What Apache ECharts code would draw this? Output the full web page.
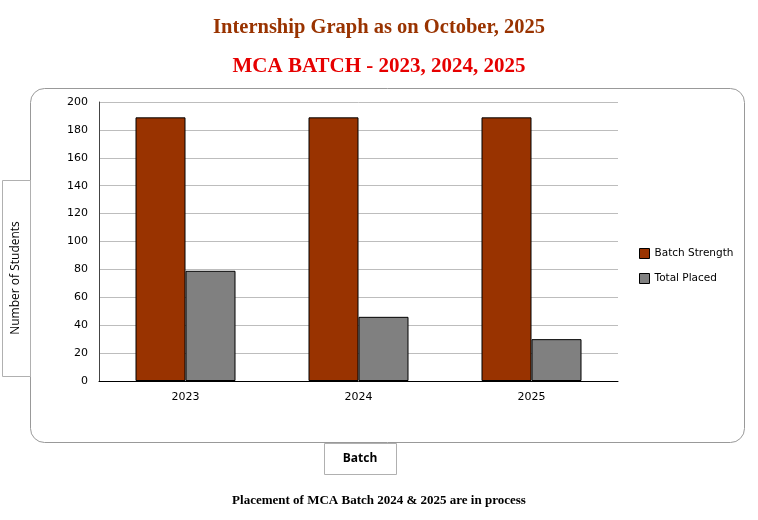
<!DOCTYPE html>
<html>
<head>
<meta charset="utf-8">
<script src="https://cdn.jsdelivr.net/npm/echarts@6/dist/echarts.min.js"></script>
<style>
  html, body { margin: 0; padding: 0; background: #fff; }
  #chart { width: 758px; height: 520px; }
</style>
</head>
<body>
<div id="chart"></div>
<script>
/* Internship graph — MCA batches */

// --- Data ---
const batches = ['2023', '2024', '2025'];
const batchStrength = [189, 189, 189];
const totalPlaced = [79, 46, 30];
const yTicks = { min: 0, max: 200, interval: 20 };

// --- Render ---
const chart = echarts.init(document.getElementById('chart'));

chart.setOption({
    animation: false,
    backgroundColor: '#fff',
    title: [
        {
            text: 'Internship Graph as on October, 2025',
            left: 'center', top: 12,
            textStyle: { fontFamily: 'Liberation Serif', fontSize: 20.5, fontWeight: 'bold', color: '#993300' }
        },
        {
            text: 'MCA BATCH - 2023, 2024, 2025',
            left: 'center', top: 51,
            textStyle: { fontFamily: 'Liberation Serif', fontSize: 21, fontWeight: 'bold', color: '#e60000' }
        },
        {
            text: 'Placement of MCA Batch 2024 & 2025 are in process',
            left: 'center', top: 489,
            textStyle: { fontFamily: 'Liberation Serif', fontSize: 13, fontWeight: 'bold', color: '#000' }
        }
    ],
    graphic: [
        {
            type: 'rect', z: -10,
            shape: { x: 30.5, y: 88.5, width: 714, height: 354, r: 14 },
            style: { fill: '#fff', stroke: '#999', lineWidth: 1 }
        },
        {
            type: 'rect', z: 10,
            shape: { x: 2.5, y: 180.5, width: 28, height: 196 },
            style: { fill: '#fff', stroke: '#b0b0b0', lineWidth: 1 }
        },
        {
            type: 'text', z: 11,
            x: 16, y: 278, rotation: Math.PI / 2,
            style: {
                text: 'Number of Students', fill: '#000',
                font: '12px "Open Sans"', align: 'center', verticalAlign: 'middle'
            }
        },
        {
            type: 'rect', z: 10,
            shape: { x: 324.5, y: 443.5, width: 72, height: 31 },
            style: { fill: '#fff', stroke: '#b0b0b0', lineWidth: 1 }
        },
        {
            type: 'text', z: 11,
            x: 360, y: 459,
            style: {
                text: 'Batch', fill: '#000',
                font: 'bold 12px "Open Sans"', align: 'center', verticalAlign: 'middle'
            }
        }
    ],
    legend: {
        orient: 'vertical',
        left: 634, top: 243,
        itemWidth: 10, itemHeight: 10, itemGap: 14,
        icon: 'rect',
        itemStyle: { borderWidth: 1 },
        textStyle: { fontFamily: 'DejaVu Sans', fontSize: 10.5, color: '#000' },
        data: ['Batch Strength', 'Total Placed']
    },
    grid: { left: 99, right: 140, top: 102, bottom: 139 },
    xAxis: {
        type: 'category',
        data: batches,
        axisLine: { lineStyle: { color: '#000', width: 1 } },
        axisTick: { show: false },
        axisLabel: { fontFamily: 'DejaVu Sans', fontSize: 11, color: '#000', margin: 11 }
    },
    yAxis: {
        type: 'value',
        min: yTicks.min, max: yTicks.max, interval: yTicks.interval,
        axisLine: { show: true, lineStyle: { color: '#444', width: 1 } },
        axisTick: { show: false },
        axisLabel: { fontFamily: 'DejaVu Sans', fontSize: 11, color: '#000', margin: 11 },
        splitLine: { lineStyle: { color: '#bdbdbd', width: 1 } }
    },
    series: [
        {
            name: 'Batch Strength',
            type: 'bar',
            data: batchStrength,
            barWidth: 50,
            barGap: '0%',
            itemStyle: { color: '#993300', borderColor: '#000', borderWidth: 1 }
        },
        {
            name: 'Total Placed',
            type: 'bar',
            data: totalPlaced,
            barWidth: 50,
            itemStyle: { color: '#808080', borderColor: '#000', borderWidth: 1 }
        }
    ]
});
</script>
</body>
</html>
